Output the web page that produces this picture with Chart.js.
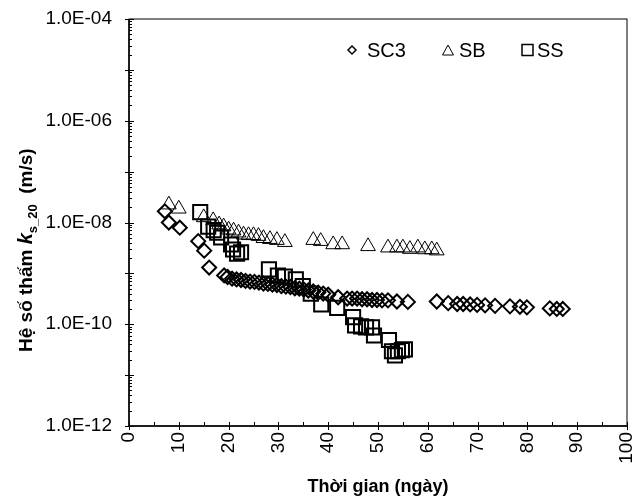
<!DOCTYPE html>
<html>
<head>
<meta charset="utf-8">
<script src="https://cdn.jsdelivr.net/npm/chart.js@4.4.1/dist/chart.umd.min.js"></script>
<style>
    body { margin: 0; background: #fff; }
    #wrap { width: 644px; height: 500px; }
</style>
</head>
<body>
<div id="wrap"><canvas id="permChart" width="644" height="500"></canvas></div>
<script>
const FONT = "'Liberation Sans', Arial, Helvetica, sans-serif";

// SC3 (diamonds)
const sc3Days = [7.2, 8.0, 10.2, 13.9, 15.1, 16.1, 19.1, 19.8, 20.7, 21.6, 22.5, 23.4, 24.3, 25.2, 26.1, 27.0,
    27.9, 28.8, 29.7, 30.6, 31.5, 32.4, 33.3, 34.2, 35.1, 36.0, 37.0, 38.0, 39.0, 40.0, 42.0, 43.8, 44.8, 45.8,
    46.8, 47.8, 48.8, 49.8, 50.8, 52.0, 53.8, 56.0, 61.8, 64.1, 65.9, 67.1, 68.5, 69.9, 71.5, 73.5, 76.5, 78.5,
    79.9, 84.5, 85.9, 87.1];
const sc3K = [1.66e-8, 1.0e-8, 7.9e-9, 4.3e-9, 2.8e-9, 1.3e-9, 9.1e-10, 8.5e-10, 7.9e-10, 7.6e-10, 7.4e-10, 7.1e-10,
    6.9e-10, 6.8e-10, 6.6e-10, 6.3e-10, 6.2e-10, 6.0e-10, 5.9e-10, 5.6e-10, 5.5e-10, 5.4e-10, 5.1e-10, 5.0e-10,
    4.8e-10, 4.6e-10, 4.4e-10, 4.2e-10, 4.0e-10, 3.8e-10, 3.4e-10, 3.2e-10, 3.2e-10, 3.2e-10, 3.1e-10, 3.1e-10,
    3.0e-10, 3.0e-10, 2.95e-10, 2.95e-10, 2.8e-10, 2.75e-10, 2.8e-10, 2.6e-10, 2.5e-10, 2.5e-10, 2.45e-10, 2.4e-10,
    2.35e-10, 2.3e-10, 2.25e-10, 2.2e-10, 2.15e-10, 2.05e-10, 2.0e-10, 2.0e-10];

// SB (triangles)
const sbDays = [8.0, 10.0, 15.0, 16.9, 18.1, 19.0, 20.0, 21.0, 22.0, 23.0, 24.0, 25.0, 26.0, 27.0, 28.3, 29.7, 31.3,
    37.0, 38.5, 41.0, 42.8, 48.0, 52.0, 53.8, 55.0, 56.4, 58.0, 59.4, 60.8, 61.8];
const sbK = [2.24e-8, 1.86e-8, 1.26e-8, 1.1e-8, 9.1e-9, 8.3e-9, 7.2e-9, 6.9e-9, 6.3e-9, 5.75e-9, 5.6e-9, 5.6e-9,
    5.4e-9, 4.9e-9, 4.7e-9, 4.5e-9, 4.1e-9, 4.5e-9, 4.3e-9, 3.7e-9, 3.7e-9, 3.4e-9, 3.2e-9, 3.2e-9, 3.2e-9,
    3.0e-9, 3.2e-9, 2.95e-9, 2.95e-9, 2.8e-9];

// SS (squares)
const ssDays = [14.3, 15.9, 17.0, 17.7, 18.5, 20.5, 20.9, 21.7, 22.5, 28.1, 29.9, 31.3, 33.5, 34.9, 36.5, 38.6,
    41.8, 45.0, 45.4, 46.6, 47.6, 48.8, 49.2, 52.2, 52.8, 53.4, 54.0, 54.8, 55.4];
const ssK = [1.6e-8, 8.3e-9, 7.1e-9, 6.3e-9, 5.1e-9, 3.7e-9, 2.95e-9, 2.45e-9, 2.6e-9, 1.2e-9, 9.1e-10, 8.7e-10,
    7.6e-10, 5.6e-10, 4.0e-10, 2.45e-10, 2.1e-10, 1.38e-10, 9.5e-11, 9.1e-11, 8.7e-11, 8.7e-11, 6.0e-11, 4.9e-11,
    2.95e-11, 2.45e-11, 2.95e-11, 3.1e-11, 3.2e-11];

const xTickValues = [0, 10, 20, 30, 40, 50, 60, 70, 80, 90, 100];
const xMinorValues = [5, 15, 25, 35, 45, 55, 65, 75, 85, 95];
const yTickValues = [1e-12, 1e-11, 1e-10, 1e-9, 1e-8, 1e-7, 1e-6, 1e-5, 1e-4];
const yTickLabels = ['1.0E-12', '', '1.0E-10', '', '1.0E-08', '', '1.0E-06', '', '1.0E-04'];

function toPoints(days, vals) {
    return days.map((d, i) => ({ x: d, y: vals[i] }));
}

// ticks, frame, axis titles and the in-plot legend
const decorPlugin = {
    id: 'decor',
    afterDraw(chart) {
        const ctx = chart.ctx;
        const a = chart.chartArea;
        const xs = chart.scales.x;
        const ys = chart.scales.y;
        ctx.save();
        ctx.strokeStyle = '#000';

        // frame
        ctx.lineWidth = 1;
        ctx.strokeRect(a.left, a.top, a.right - a.left, a.bottom - a.top);
        ctx.lineWidth = 1.5;
        ctx.beginPath();
        ctx.moveTo(a.left, a.top);
        ctx.lineTo(a.left, a.bottom);
        ctx.lineTo(a.right, a.bottom);
        ctx.stroke();

        // x ticks
        ctx.lineWidth = 1;
        ctx.beginPath();
        xTickValues.forEach(v => {
            const px = Math.round(xs.getPixelForValue(v)) + 0.5;
            ctx.moveTo(px, a.bottom - 4);
            ctx.lineTo(px, a.bottom + 4);
        });
        xMinorValues.forEach(v => {
            const px = Math.round(xs.getPixelForValue(v)) + 0.5;
            ctx.moveTo(px, a.bottom - 4);
            ctx.lineTo(px, a.bottom);
        });
        // y ticks, decades plus minor 2..9
        yTickValues.forEach((v, i) => {
            const py = Math.round(ys.getPixelForValue(v)) + 0.5;
            ctx.moveTo(a.left - 4, py);
            ctx.lineTo(a.left + 5, py);
            if (i < yTickValues.length - 1) {
                for (let k = 2; k <= 9; k++) {
                    const pm = Math.round(ys.getPixelForValue(v * k)) + 0.5;
                    ctx.moveTo(a.left, pm);
                    ctx.lineTo(a.left + 3, pm);
                }
            }
        });
        ctx.stroke();

        ctx.fillStyle = '#000';

        // x title
        ctx.font = 'bold 18px ' + FONT;
        ctx.textAlign = 'center';
        ctx.textBaseline = 'alphabetic';
        ctx.fillText('Thời gian (ngày)', (a.left + a.right) / 2, 492);

        // y title with italic k and subscript
        ctx.translate(32, 352);
        ctx.rotate(-Math.PI / 2);
        ctx.textAlign = 'left';
        let pos = 0;
        const part = (txt, font, dy) => {
            ctx.font = font;
            ctx.fillText(txt, pos, dy);
            pos += ctx.measureText(txt).width;
        };
        part('Hệ số thấm ', 'bold 19px ' + FONT, 0);
        part('k', 'italic bold 20px ' + FONT, 0);
        part('s_20', 'bold 13px ' + FONT, 5);
        part('  (m/s)', 'bold 19px ' + FONT, 0);
        ctx.restore();

        // legend
        ctx.save();
        ctx.strokeStyle = '#000';
        ctx.fillStyle = '#000';
        ctx.font = '20px ' + FONT;
        ctx.textBaseline = 'alphabetic';
        ctx.textAlign = 'left';
        const ly = a.top + 31;
        // diamond
        let cx = a.left + 223;
        ctx.lineWidth = 1.5;
        ctx.beginPath();
        ctx.moveTo(cx - 4, ly); ctx.lineTo(cx, ly - 4); ctx.lineTo(cx + 4, ly); ctx.lineTo(cx, ly + 4);
        ctx.closePath();
        ctx.stroke();
        ctx.fillText('SC3', a.left + 238, ly + 7);
        // triangle
        cx = a.left + 319;
        ctx.lineWidth = 1;
        ctx.beginPath();
        ctx.moveTo(cx, ly - 5); ctx.lineTo(cx + 5.5, ly + 5); ctx.lineTo(cx - 5.5, ly + 5);
        ctx.closePath();
        ctx.stroke();
        ctx.fillText('SB', a.left + 330, ly + 7);
        // square
        cx = a.left + 398.5;
        ctx.lineWidth = 1.5;
        ctx.strokeRect(cx - 5.5, ly - 5.5, 11, 11);
        ctx.fillText('SS', a.left + 408, ly + 7);
        ctx.restore();
    }
};

const ctx = document.getElementById('permChart').getContext('2d');

new Chart(ctx, {
    type: 'scatter',
    data: {
        datasets: [
            {
                label: 'SC3',
                data: toPoints(sc3Days, sc3K),
                pointStyle: 'rectRot',
                pointRadius: 7,
                borderColor: '#000',
                backgroundColor: 'transparent',
                pointBorderWidth: 2
            },
            {
                label: 'SB',
                data: toPoints(sbDays, sbK),
                pointStyle: 'triangle',
                pointRadius: 8.5,
                borderColor: '#000',
                backgroundColor: 'transparent',
                pointBorderWidth: 1
            },
            {
                label: 'SS',
                data: toPoints(ssDays, ssK),
                pointStyle: 'rect',
                pointRadius: 10,
                borderColor: '#000',
                backgroundColor: 'transparent',
                pointBorderWidth: 2
            }
        ]
    },
    options: {
        responsive: false,
        animation: false,
        layout: { padding: { left: 0, right: 17, top: 19, bottom: 0 } },
        plugins: {
            legend: { display: false },
            tooltip: { enabled: false }
        },
        scales: {
            x: {
                type: 'linear',
                min: 0,
                max: 100,
                afterFit: (scale) => {
                    scale.height = 74;
                    scale.paddingLeft = 0;
                    scale.paddingRight = 0;
                },
                afterBuildTicks: (scale) => { scale.ticks = xTickValues.map(v => ({ value: v })); },
                grid: { display: false, drawTicks: false },
                border: { display: false },
                ticks: {
                    autoSkip: false,
                    minRotation: 90,
                    maxRotation: 90,
                    padding: 6,
                    color: '#000',
                    font: { family: FONT, size: 19 }
                }
            },
            y: {
                type: 'logarithmic',
                min: 1e-12,
                max: 1e-4,
                afterFit: (scale) => {
                    scale.width = 129;
                    scale.paddingTop = 0;
                    scale.paddingBottom = 0;
                },
                afterBuildTicks: (scale) => { scale.ticks = yTickValues.map(v => ({ value: v })); },
                grid: { display: false, drawTicks: false },
                border: { display: false },
                ticks: {
                    autoSkip: false,
                    padding: 17,
                    color: '#000',
                    font: { family: FONT, size: 19 },
                    callback: (value) => {
                        const i = yTickValues.findIndex(v => Math.abs(Math.log10(v) - Math.log10(value)) < 1e-6);
                        return i >= 0 ? yTickLabels[i] : '';
                    }
                }
            }
        }
    },
    plugins: [decorPlugin]
});
</script>
</body>
</html>
